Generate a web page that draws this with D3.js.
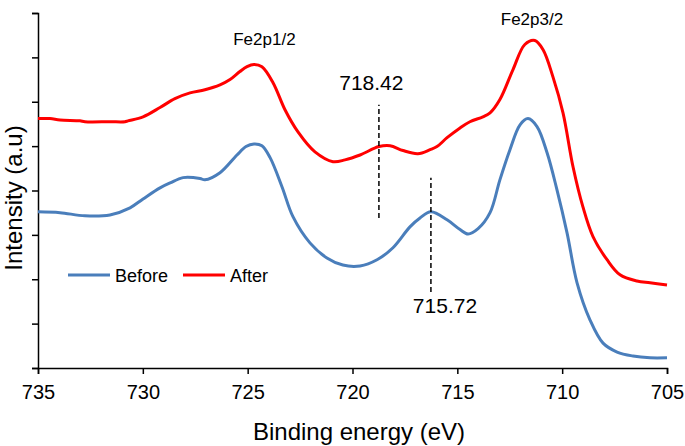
<!DOCTYPE html>
<html>
<head>
<meta charset="utf-8">
<script src="https://cdn.jsdelivr.net/npm/d3@7"></script>
<style>
  html, body { margin: 0; padding: 0; background: #fff; }
  svg { display: block; font-family: Arial, "Liberation Sans", Helvetica, sans-serif; }
</style>
</head>
<body>
<svg id="chart" width="685" height="446"></svg>
<script>
// ---- Data ----
const beforeEnergy = [735.00,733.95,732.76,731.57,730.61,729.99,729.18,728.70,728.08,727.27,727.04,726.32,725.51,725.08,724.70,724.32,723.93,723.36,722.84,722.03,721.22,720.46,719.64,718.83,718.07,717.26,716.78,716.26,715.49,714.87,714.49,714.01,713.44,712.97,712.49,712.01,711.63,711.20,710.72,710.25,709.77,709.29,708.67,708.05,707.38,706.62,705.81,705.00];
const beforeIntensity = [3.52,3.50,3.43,3.45,3.61,3.81,4.06,4.17,4.29,4.27,4.24,4.40,4.80,4.99,5.05,5.01,4.74,4.08,3.41,2.82,2.48,2.32,2.30,2.44,2.71,3.18,3.38,3.52,3.34,3.12,3.02,3.14,3.50,4.24,4.92,5.48,5.62,5.44,4.85,4.02,3.05,1.92,1.08,0.56,0.36,0.27,0.23,0.23];

const afterEnergy = [735.00,734.43,733.95,733.00,732.76,731.57,730.85,730.71,729.99,729.18,728.47,727.75,727.04,726.32,725.84,725.37,725.03,724.70,724.32,723.79,723.22,722.60,721.79,720.93,720.36,719.64,718.74,718.21,717.59,716.88,716.30,715.97,715.49,714.87,714.40,713.78,713.44,712.97,712.35,711.78,711.30,710.91,710.44,709.96,709.48,709.01,708.53,707.86,707.24,706.43,705.81,705.00];
const afterIntensity = [5.62,5.62,5.59,5.57,5.55,5.55,5.55,5.57,5.66,5.87,6.07,6.20,6.27,6.38,6.50,6.68,6.79,6.84,6.79,6.43,5.82,5.32,4.87,4.65,4.69,4.80,4.99,5.01,4.90,4.83,4.92,4.99,5.19,5.41,5.55,5.66,5.75,6.05,6.72,7.29,7.38,7.17,6.56,5.75,4.53,3.63,2.96,2.44,2.10,1.96,1.92,1.87];

const seriesNames = ["Before", "After"];
const seriesColors = ["#4a7ebb", "#ff0000"];

const xTicks = [735, 730, 725, 720, 715, 710, 705];
const yTicks = [0, 1, 2, 3, 4, 5, 6, 7, 8];

// dashed marker lines: [energy, intensity from, intensity to]
const markerEnergy = [718.74, 716.26];
const markerFrom = [3.38, 1.71];
const markerTo = [5.93, 4.29];

// annotation texts
const noteTexts = ["718.42", "715.72", "Fe2p1/2", "Fe2p3/2"];
const noteEnergy = [719.10, 715.59, 724.20, 711.44];
const noteIntensity = [6.27, 1.24, 7.29, 7.74];
const noteSizes = [21, 21, 17, 17];

// ---- Layout ----
const W = 685, H = 446;
const margin = { left: 38, right: 18, top: 13, bottom: 78 };
const svg = d3.select("#chart");

const x = d3.scaleLinear().domain([735, 705]).range([margin.left, W - margin.right]);
const y = d3.scaleLinear().domain([0, 8]).range([H - margin.bottom, margin.top]);

// Axes
const xAxis = d3.axisBottom(x).tickValues(xTicks).tickSize(6).tickPadding(11).tickFormat(d3.format("d"));
const gx = svg.append("g").attr("transform", `translate(0,${H - margin.bottom})`).call(xAxis);
gx.select(".domain").attr("stroke", "#000").attr("stroke-width", 1.5);
gx.selectAll(".tick line").attr("stroke", "#000").attr("stroke-width", 1.5);
gx.selectAll(".tick text").attr("font-size", 20).attr("fill", "#000").attr("font-family", "Arial, 'Liberation Sans', sans-serif");

const yAxis = d3.axisLeft(y).tickValues(yTicks).tickSize(6).tickFormat("");
const gy = svg.append("g").attr("transform", `translate(${margin.left},0)`).call(yAxis);
gy.select(".domain").attr("stroke", "#000").attr("stroke-width", 1.5);
gy.selectAll(".tick line").attr("stroke", "#000").attr("stroke-width", 1.5);

// Axis titles
svg.append("text")
  .attr("x", 359).attr("y", 440)
  .attr("text-anchor", "middle").attr("font-size", 24).attr("fill", "#000")
  .text("Binding energy (eV)");
svg.append("text")
  .attr("transform", "translate(22,198) rotate(-90)")
  .attr("text-anchor", "middle").attr("font-size", 24).attr("fill", "#000")
  .text("Intensity (a.u)");

// Lines
const line = d3.line().x(d => x(d[0])).y(d => y(d[1])).curve(d3.curveCatmullRom.alpha(0.5));
const seriesData = [
  d3.zip(beforeEnergy, beforeIntensity),
  d3.zip(afterEnergy, afterIntensity)
];
seriesData.forEach((data, i) => {
  svg.append("path")
    .datum(data)
    .attr("fill", "none")
    .attr("stroke", seriesColors[i])
    .attr("stroke-width", 3)
    .attr("stroke-linejoin", "round")
    .attr("d", line);
});

// Dashed markers
markerEnergy.forEach((e, i) => {
  svg.append("line")
    .attr("x1", x(e)).attr("x2", x(e))
    .attr("y1", y(markerFrom[i])).attr("y2", y(markerTo[i]))
    .attr("stroke", "#000").attr("stroke-width", 1.5)
    .attr("stroke-dasharray", "5,3");
});

// Annotations
noteTexts.forEach((t, i) => {
  svg.append("text")
    .attr("x", x(noteEnergy[i])).attr("y", y(noteIntensity[i]))
    .attr("text-anchor", "middle").attr("font-size", noteSizes[i]).attr("fill", "#000")
    .text(t);
});

// Legend
const legendX = [68, 183];
seriesNames.forEach((name, i) => {
  const g = svg.append("g").attr("transform", `translate(${legendX[i]},275)`);
  g.append("line").attr("x1", 0).attr("x2", 42).attr("y1", 0).attr("y2", 0)
    .attr("stroke", seriesColors[i]).attr("stroke-width", 3);
  g.append("text").attr("x", 47).attr("y", 7).attr("font-size", 18).attr("fill", "#000").text(name);
});
</script>
</body>
</html>
